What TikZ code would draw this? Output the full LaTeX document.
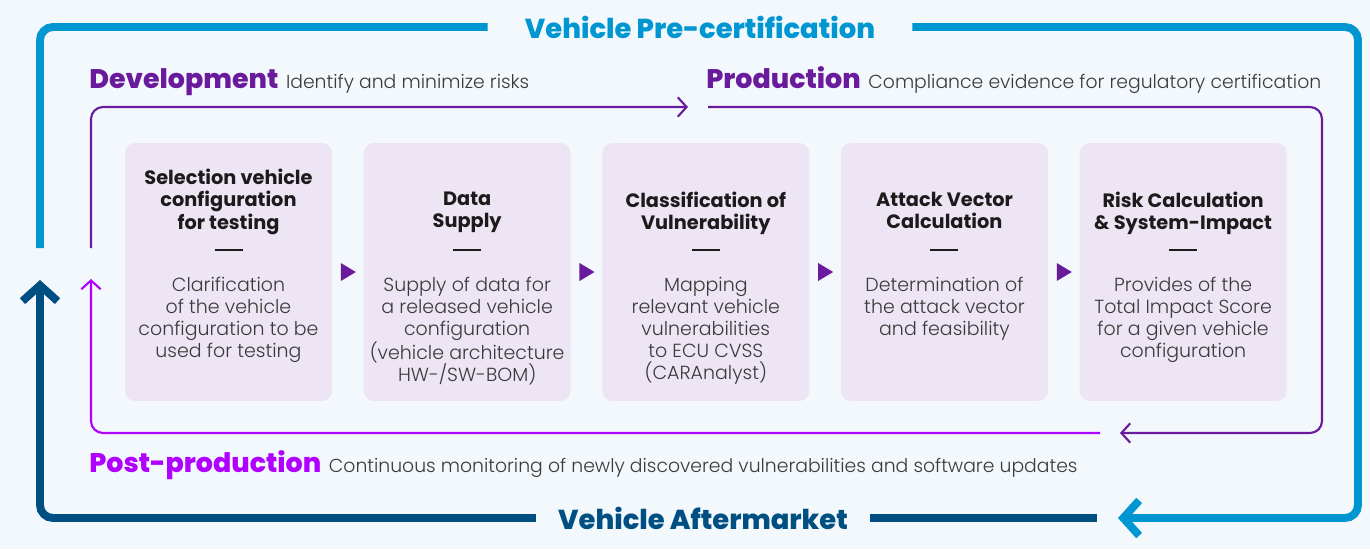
\documentclass[tikz,border=0pt]{standalone}
\usepackage{fontspec}
\setmainfont{Poppins}
\newfontfamily\heavyfont{Poppins ExtraBold}
\newfontfamily\lightfont{Poppins Light}
\usetikzlibrary{calc}
\usetikzlibrary{positioning}
\usetikzlibrary{arrows.meta}

\definecolor{bgcol}{HTML}{F3F8FD}
\definecolor{boxcol}{HTML}{EEE5F4}
\definecolor{bluecol}{HTML}{0096D1}
\definecolor{navycol}{HTML}{004F82}
\definecolor{purplecol}{HTML}{6A1A9C}
\definecolor{magcol}{HTML}{B000FF}
\definecolor{textcol}{HTML}{1B1B1B}
\definecolor{desccol}{HTML}{3A3A3A}

\begin{document}
\begin{tikzpicture}[x=0.02cm, y=-0.02cm,
    stepbox/.style={fill=boxcol, rounded corners=0.2cm, minimum width=4.14cm, minimum height=5.16cm, inner sep=0},
    boxtitle/.style={align=center, inner sep=0, text=textcol, font=\fontsize{11}{12.7}\selectfont\bfseries},
    boxdesc/.style={align=center, inner sep=0, text=desccol, font=\fontsize{10.8}{12.5}\selectfont\lightfont},
    bigtitle/.style={inner ysep=0, font=\fontsize{15.6}{18}\selectfont\heavyfont},
    phase/.style={inner sep=0, anchor=base west, font=\fontsize{15.3}{17}\selectfont\heavyfont},
    phasetxt/.style={inner sep=0, anchor=base west, text=desccol, font=\fontsize{10.7}{13}\selectfont\lightfont},
    thick line/.style={line width=4.5pt, rounded corners=0.26cm},
    thin line/.style={line width=1.2pt, rounded corners=0.24cm},
    big tip/.style={-{Straight Barb[length=9pt, width=20pt]}},
    small tip/.style={-{Straight Barb[length=5pt, width=11pt]}}]

    % background
    \fill[bgcol] (0,0) rectangle (1370,549);

    % outer loop
    \node[bigtitle, text=bluecol, inner xsep=21pt] (pre) at (700,27) {Vehicle Pre-certification};
    \node[bigtitle, text=navycol, inner xsep=12.5pt] (after) at (703,518) {Vehicle Aftermarket};
    \coordinate (bstart) at (40,248);
    \coordinate (bend) at (1118,518);
    \coordinate (nstart) at (1097,518);
    \coordinate (nend) at (40,280);
    \draw[thick line, bluecol] (bstart) |- (pre.west);
    \draw[thick line, bluecol, big tip] (pre.east) -| (1358,518) -- (bend);
    \draw[thick line, navycol] (nstart) -- (after.east);
    \draw[thick line, navycol, big tip] (after.west) -| (nend);

    % inner loop
    \coordinate (pstart) at (91,248);
    \coordinate (pend) at (688,107);
    \coordinate (qstart) at (708,107);
    \coordinate (qend) at (1120,433);
    \coordinate (mstart) at (1100,433);
    \coordinate (mend) at (91,279);
    \draw[thin line, purplecol, small tip] (pstart) |- (pend);
    \draw[thin line, purplecol, small tip] (qstart) -| (1322,433) -- (qend);
    \draw[thin line, magcol, small tip] (mstart) -| (mend);

    \node[phase, text=purplecol] (dev) at (89,88) {Development};
    \node[phasetxt] at ([xshift=4pt]dev.base east) {Identify and minimize risks};
    \node[phase, text=purplecol] (prod) at (706,88) {Production};
    \node[phasetxt] at ([xshift=4pt]prod.base east) {Compliance evidence for regulatory certification};
    \node[phase, text=magcol] (post) at (89,472) {Post-production};
    \node[phasetxt] at ([xshift=4pt]post.base east) {Continuous monitoring of newly discovered vulnerabilities and software updates};

    % steps
    \node[stepbox] (b1) at (228.5,272) {};
    \node[stepbox, right=0.62cm of b1] (b2) {};
    \node[stepbox, right=0.62cm of b2] (b3) {};
    \node[stepbox, right=0.62cm of b3] (b4) {};
    \node[stepbox, right=0.62cm of b4] (b5) {};

    \node[boxtitle, below=0.52cm of b1.north] {Selection vehicle\\configuration\\for testing};
    \node[boxtitle, below=0.98cm of b2.north] {Data\\Supply};
    \node[boxtitle, below=0.98cm of b3.north] {Classification of\\Vulnerability};
    \node[boxtitle, below=0.98cm of b4.north] {Attack Vector\\Calculation};
    \node[boxtitle, below=0.98cm of b5.north] {Risk Calculation\\\& System-Impact};

    \node[boxdesc, below=2.68cm of b1.north] {Clarification\\of the vehicle\\configuration to be\\used for testing};
    \node[boxdesc, below=2.68cm of b2.north] {Supply of data for\\a released vehicle\\configuration\\(vehicle architecture\\HW-/SW-BOM)};
    \node[boxdesc, below=2.68cm of b3.north] {Mapping\\relevant vehicle\\vulnerabilities\\to ECU CVSS\\(CARAnalyst)};
    \node[boxdesc, below=2.68cm of b4.north] {Determination of\\the attack vector\\and feasibility};
    \node[boxdesc, below=2.68cm of b5.north] {Provides of the\\Total Impact Score\\for a given vehicle\\configuration};

    % dashes and triangles
    \foreach \b in {b1,b2,b3,b4,b5}
        \draw[textcol, line width=1pt] ($(\b.north)+(-14,107)$) -- ($(\b.north)+(14,107)$);
    \foreach \a/\b in {b1/b2,b2/b3,b3/b4,b4/b5} {
        \coordinate (m) at ($(\a.east)!0.5!(\b.west)$);
        \fill[purplecol] ($(m)+(-7,-9)$) -- ($(m)+(8,0)$) -- ($(m)+(-7,9)$) -- cycle;
    }
\end{tikzpicture}
\end{document}
